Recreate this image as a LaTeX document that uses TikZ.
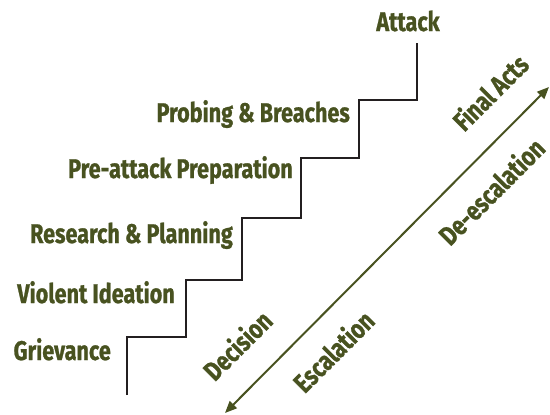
\documentclass[tikz,border=0pt]{standalone}
\usepackage{fontspec}
\setmainfont{Fira Sans}[FakeStretch=0.8,BoldFont={Fira Sans Bold},BoldFeatures={FakeBold=0.9}]
\usetikzlibrary{arrows.meta}
\definecolor{olivetxt}{RGB}{72,82,32}
\definecolor{stairclr}{RGB}{35,31,32}
\begin{document}
\begin{tikzpicture}[x=1pt,y=-1pt,
  lbl/.style={text=olivetxt,font=\bfseries\fontsize{27}{27}\selectfont,inner sep=0pt},
  steplbl/.style={lbl,anchor=base east},
  difflbl/.style={lbl,anchor=center,rotate=45},
  stairline/.style={draw=stairclr,line width=2.2pt,line join=miter},
  escarrow/.style={draw=olivetxt,line width=2pt,
    {Triangle[length=12pt,width=10pt]}-{Triangle[length=12pt,width=10pt]}}]
\useasboundingbox (0,0) rectangle (550,415);
% staircase
\draw[stairline] (127,395) -- (127,337) -- (186,337) -- (186,280) -- (242,280)
  -- (242,218) -- (301,218) -- (301,158) -- (359,158) -- (359,100) -- (417,100) -- (417,43);
% step labels
\node[steplbl] (griev) at (111,360) {Grievance};
\node[steplbl] (viol) at (175,303) {Violent Ideation};
\node[steplbl] (rese) at (233,243) {Research \& Planning};
\node[steplbl] (prep) at (293,178) {Pre-attack Preparation};
\node[steplbl] (prob) at (350,122) {Probing \& Breaches};
\node[lbl,anchor=base] (attk) at (408,31) {Attack};
% arrow
\coordinate (lo) at (225,413);
\coordinate (hi) at (549,87);
\draw[escarrow] (lo) -- (hi);
\node[difflbl] (deci) at (237,345) {Decision};
\node[difflbl] (esca) at (333,351) {Escalation};
\node[difflbl] (fina) at (490,92) {Final Acts};
\node[difflbl] (dees) at (491,191) {De-escalation};
\end{tikzpicture}
\end{document}
